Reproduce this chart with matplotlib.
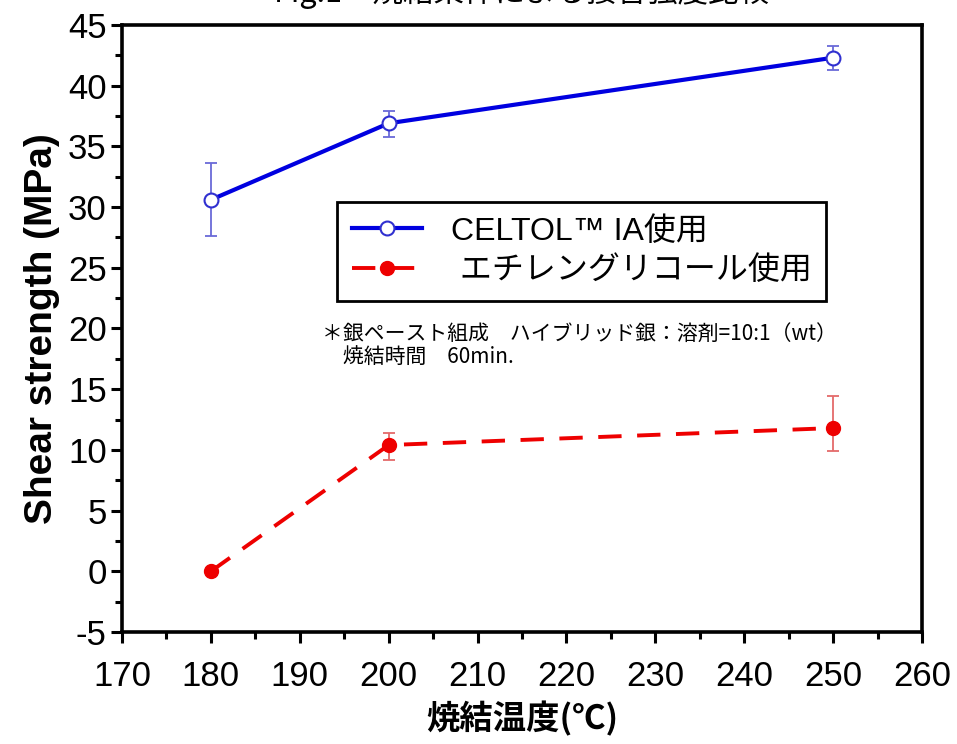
import matplotlib
matplotlib.use("Agg")
import matplotlib.pyplot as plt
from matplotlib.ticker import MultipleLocator

plt.rcParams['font.family'] = ['Liberation Sans', 'Noto Sans CJK JP', 'DejaVu Sans']
plt.rcParams['axes.unicode_minus'] = False

# 焼結温度 (℃)
temps = [180, 200, 250]

# CELTOL IA使用
celtol = [30.6, 36.9, 42.3]
celtol_err_lo = [3.0, 1.1, 1.0]
celtol_err_hi = [3.0, 1.0, 1.0]

# エチレングリコール使用
eg = [0.0, 10.4, 11.8]
eg_err_lo = [0.0, 1.2, 1.9]
eg_err_hi = [0.0, 1.0, 2.6]

xticks = [170, 180, 190, 200, 210, 220, 230, 240, 250, 260]
yticks = [-5, 0, 5, 10, 15, 20, 25, 30, 35, 40, 45]

fig = plt.figure(figsize=(9.57, 7.44), dpi=100)
ax = fig.add_axes([0.1275, 0.1505, 0.836, 0.816])

# エラーバー（細く薄い色）
ax.errorbar(temps, celtol, yerr=[celtol_err_lo, celtol_err_hi], fmt='none',
            ecolor='#6a6ad8', elinewidth=1.3, capsize=4, capthick=1.3, zorder=2)
ax.errorbar(temps[1:], eg[1:], yerr=[eg_err_lo[1:], eg_err_hi[1:]], fmt='none',
            ecolor='#e46a6a', elinewidth=1.3, capsize=4, capthick=1.3, zorder=2)

ax.plot(temps, celtol, color='#0000e0', lw=3.0, marker='o', ms=10,
        mfc='white', mec='#3030d0', mew=1.5, label='CELTOL™ IA使用', zorder=3)
ax.plot(temps, eg, color='#ee0000', lw=2.8, ls=(0, (6, 4)), marker='o', ms=10,
        mfc='#ee0000', mec='#ee0000', label=' エチレングリコール使用', zorder=3)

ax.set_xlim(170, 260)
ax.set_ylim(-5, 45)
ax.set_xticks(xticks)
ax.set_yticks(yticks)
ax.xaxis.set_minor_locator(MultipleLocator(5))
ax.yaxis.set_minor_locator(MultipleLocator(2.5))
ax.tick_params(which='major', direction='out', length=8, width=2.2, labelsize=25)
ax.tick_params(axis='x', which='major', pad=12)
ax.tick_params(axis='y', which='major', pad=3)
ax.tick_params(which='minor', direction='out', length=5, width=2.2)
for sp in ax.spines.values():
    sp.set_linewidth(2.6)

ax.set_xlabel('焼結温度(℃)', fontsize=24, fontweight='bold', labelpad=6,
              family=['Noto Sans CJK JP', 'DejaVu Sans'])
ax.set_ylabel('Shear strength (MPa)', fontsize=28, fontweight='bold', labelpad=6)

leg = ax.legend(loc='upper left', bbox_to_anchor=(0.269, 0.708), borderaxespad=0,
                fontsize=23, frameon=True, fancybox=False, framealpha=1,
                edgecolor='black', handlelength=2.2, borderpad=0.45,
                labelspacing=0.3, handletextpad=0.9)
leg.get_frame().set_linewidth(2.0)

ax.text(0.25, 0.51, '＊銀ペースト組成　ハイブリッド銀：溶剤=10:1（wt）\n　焼結時間　60min.',
        transform=ax.transAxes, fontsize=15, va='top', ha='left', linespacing=1.15,
        family=['Noto Sans CJK JP', 'DejaVu Sans'])

# 上が切れているタイトル（元画像でも上半分が切れている）
fig.text(0.545, 0.988, 'Fig.1　焼結条件による接合強度比較', fontsize=22, ha='center',
         va='bottom', family=['Noto Sans CJK JP', 'DejaVu Sans'])

fig.savefig('out.png', dpi=100)
